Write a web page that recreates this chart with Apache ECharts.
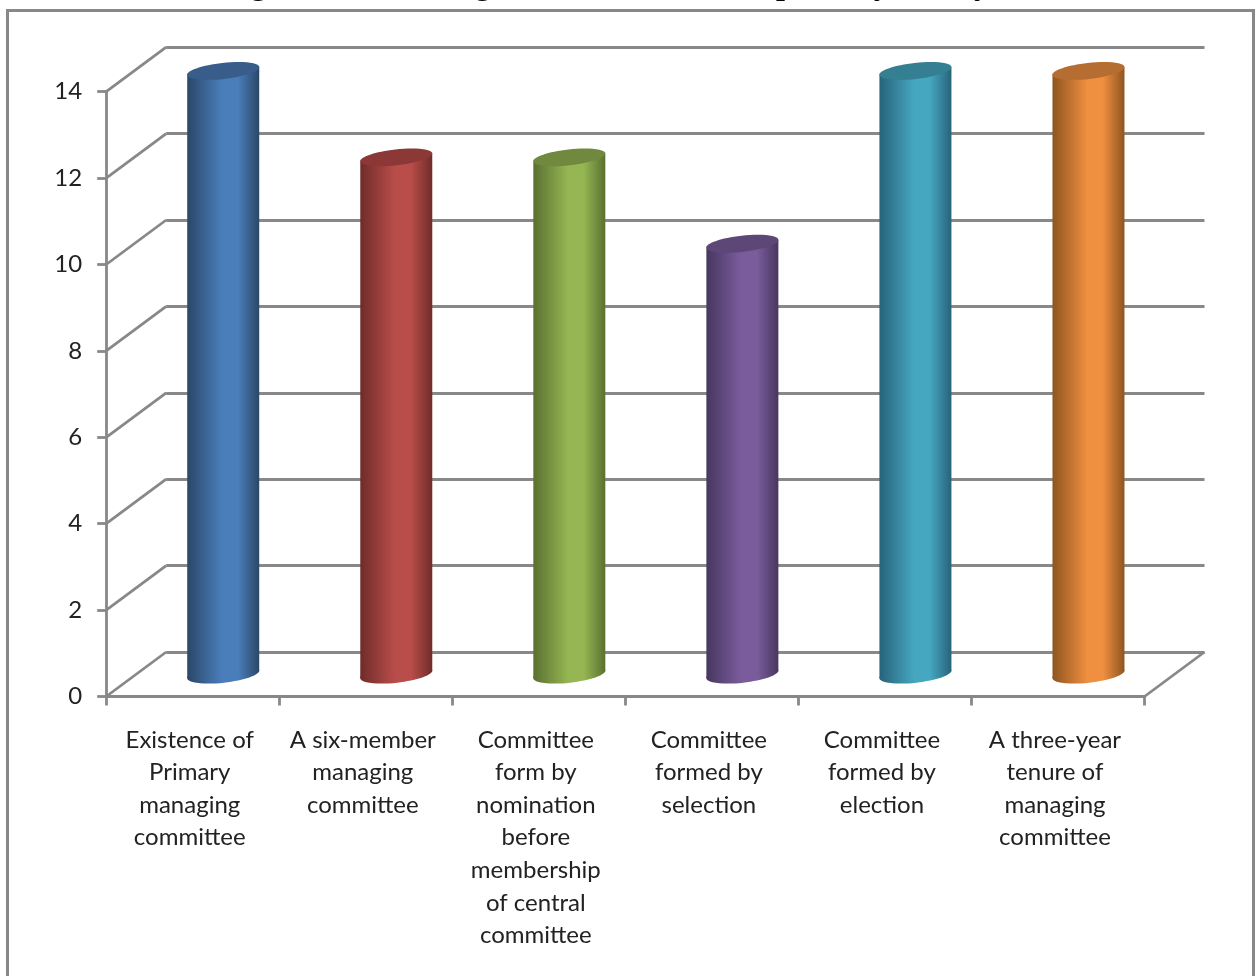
<!DOCTYPE html>
<html><head><meta charset="utf-8">
<style>html,body{margin:0;padding:0;background:#fff}#c{width:1255px;height:976px}</style>
<script src="https://cdn.jsdelivr.net/npm/echarts@6/dist/echarts.min.js"></script>
</head><body><div id="c"></div>
<script>
var titleText = 'Figure 4.10: Management Committee of primary society';
var categories = [
  'Existence of\nPrimary\nmanaging\ncommittee',
  'A six-member\nmanaging\ncommittee',
  'Committee\nform by\nnomination\nbefore\nmembership\nof central\ncommittee',
  'Committee\nformed by\nselection',
  'Committee\nformed by\nelection',
  'A three-year\ntenure of\nmanaging\ncommittee'
];
var values = [14, 12, 12, 10, 14, 14];
var yTicks = [0, 2, 4, 6, 8, 10, 12, 14];
var midColors  = ['#4a7ebb', '#b94d4a', '#95b652', '#7a5c9c', '#45a7c0', '#ef8f40'];
var edgeColors = ['#2a4768', '#6f2c2a', '#5a7030', '#473760', '#27637a', '#8f5520'];
var topColors  = ['#385d8a', '#8c3836', '#71893f', '#5c4776', '#357f92', '#b66d31'];

var GRID_COLOR = '#888888', LINE_W = 2.8;
var DEPTH_X = 60, DEPTH_Y = -44.5;

function cylinder(params, api) {
  var i = api.value(0);
  var topPt = api.coord([i, api.value(1)]);
  var basePt = api.coord([i, 0]);
  var cx = topPt[0] + DEPTH_X / 2 + 0.5;
  var yTop = topPt[1] + DEPTH_Y / 2 + 1.5;
  var yBase = basePt[1] + DEPTH_Y / 2;
  var rx = 36, ry = 8, rot = 0.11, tilt = 3.8;
  var grad = {type:'linear', x:0, y:0, x2:1, y2:0, colorStops:[
    {offset:0, color:edgeColors[i]},
    {offset:0.48, color:midColors[i]},
    {offset:0.7, color:midColors[i]},
    {offset:1, color:edgeColors[i]}
  ]};
  return {type:'group', children:[
    {type:'ellipse', z2:1, x:cx, y:yBase, rotation:rot,
      shape:{cx:0, cy:0, rx:rx+0.3, ry:ry+0.5}, style:{fill:grad}},
    {type:'polygon', z2:2, shape:{points:[
        [cx-rx, yTop+tilt], [cx+rx, yTop-tilt], [cx+rx, yBase-tilt], [cx-rx, yBase+tilt]
      ]}, style:{fill:grad}},
    {type:'ellipse', z2:3, x:cx, y:yTop, rotation:rot,
      shape:{cx:0, cy:0, rx:rx+0.3, ry:ry}, style:{fill:topColors[i]}}
  ]};
}

function sideLine(params, api) {
  var p = api.coord([0, api.value(0)]);
  var x = p[0] - api.size([1, 0])[0] / 2;
  return {type:'line', shape:{x1:x, y1:p[1], x2:x+DEPTH_X, y2:p[1]+DEPTH_Y},
    style:{stroke:GRID_COLOR, lineWidth:LINE_W}};
}
function floorEdge(params, api) {
  var p = api.coord([api.value(0), 0]);
  var x = p[0] + api.size([1, 0])[0] / 2;
  return {type:'line', shape:{x1:x, y1:p[1], x2:x+DEPTH_X, y2:p[1]+DEPTH_Y},
    style:{stroke:GRID_COLOR, lineWidth:LINE_W}};
}

var labelFont = {fontFamily:'Lato', fontSize:24, color:'#222'};
var chart = echarts.init(document.getElementById('c'), null, {renderer:'canvas'});
chart.setOption({
  animation:false,
  backgroundColor:'#fff',
  graphic:[
    {type:'rect', z:-1, shape:{x:7.5, y:10.5, width:1246, height:990},
      style:{fill:'#fff', stroke:GRID_COLOR, lineWidth:3}},
    {type:'text', z:10, x:222, y:2, style:{text:titleText, textAlign:'left', textVerticalAlign:'bottom',
      font:'bold 32px "Liberation Serif"', fill:'#000'}}
  ],
  grid:[
    {left:106.2, top:91.7, width:1038.3, height:604.8},
    {left:166.2, top:47.2, width:1038.3, height:604.8}
  ],
  xAxis:[
    {type:'category', gridIndex:0, data:categories,
      axisLine:{lineStyle:{color:GRID_COLOR, width:LINE_W}},
      axisTick:{show:true, alignWithLabel:false, length:9, lineStyle:{color:GRID_COLOR, width:LINE_W}},
      axisLabel:Object.assign({interval:0, margin:27, lineHeight:32.6, align:'center', verticalAlign:'top', padding:[0,6,0,0]}, labelFont)},
    {type:'category', gridIndex:1, data:categories, axisLine:{show:false}, axisTick:{show:false}, axisLabel:{show:false}}
  ],
  yAxis:[
    {type:'value', gridIndex:0, min:0, max:14, interval:2, splitLine:{show:false},
      axisLine:{show:true, lineStyle:{color:GRID_COLOR, width:LINE_W}},
      axisTick:{show:true, length:9, lineStyle:{color:GRID_COLOR, width:LINE_W}},
      axisLabel:Object.assign({margin:24}, labelFont)},
    {type:'value', gridIndex:1, min:0, max:14, interval:2,
      axisLine:{show:false}, axisTick:{show:false}, axisLabel:{show:false},
      splitLine:{show:true, lineStyle:{color:GRID_COLOR, width:LINE_W}}}
  ],
  series:[
    {type:'custom', name:'walls', xAxisIndex:0, yAxisIndex:0, z:2, silent:true,
      data:yTicks.map(function(v){return [v];}), encode:{y:0}, renderItem:sideLine, clip:false},
    {type:'custom', name:'floor', xAxisIndex:0, yAxisIndex:0, z:2, silent:true,
      data:[[categories.length-1]], encode:{x:0}, renderItem:floorEdge, clip:false},
    {type:'custom', name:'count', xAxisIndex:0, yAxisIndex:0, z:5,
      data:values.map(function(v,i){return [i,v];}), encode:{x:0,y:1}, renderItem:cylinder, clip:false}
  ]
});
</script></body></html>
